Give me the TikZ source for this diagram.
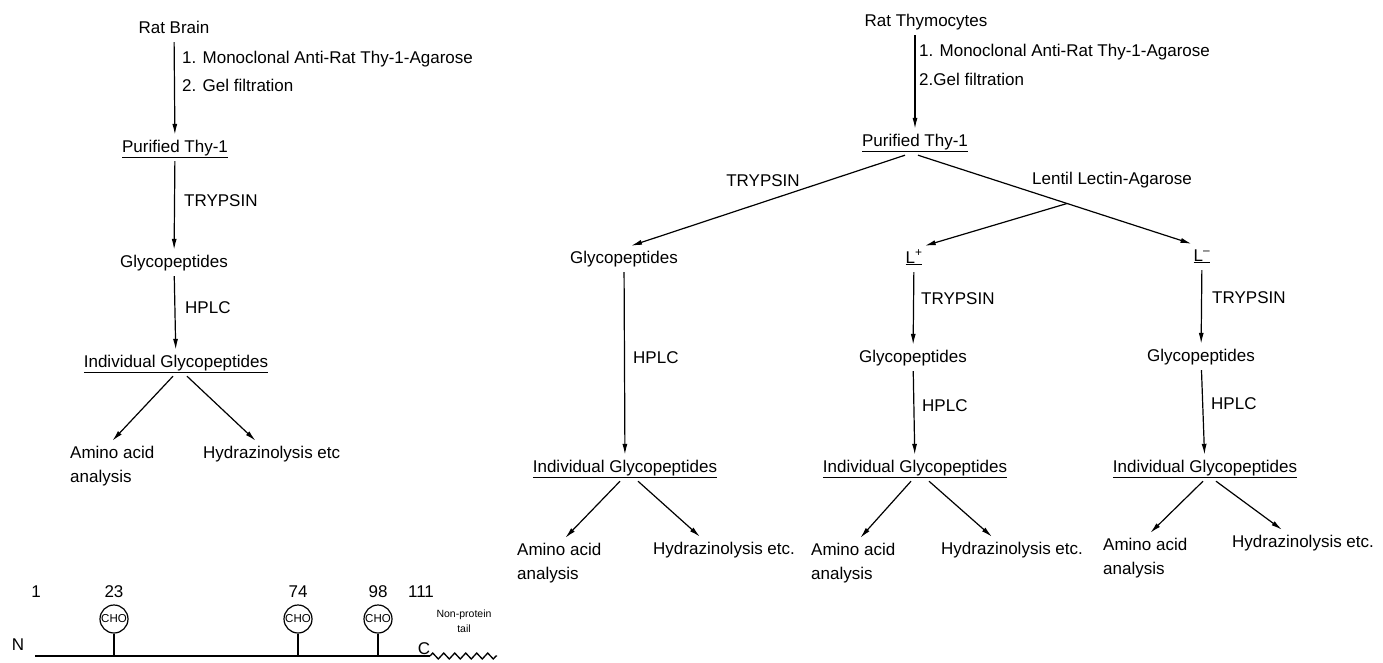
\documentclass[tikz,border=0pt]{standalone}
\usepackage{fontspec}
\setmainfont{Liberation Sans}
\usetikzlibrary{arrows.meta,decorations.pathmorphing}

\begin{document}
\begin{tikzpicture}
[x=1pt,y=-1pt,
  arrowDecorate/.style={-{Latex[length=11pt,width=5pt]},line width=1.2pt},%
  lineDecorate/.style={-,line width=1.3pt},
  nodeDecorate/.style={anchor=base,inner xsep=2pt,inner ysep=5pt,text height=12pt,text depth=4pt,font=\fontsize{17}{24}\selectfont},
  stepDecorate/.style={nodeDecorate,anchor=base west},
  twoDecorate/.style={anchor=west,inner xsep=2pt,inner ysep=5pt,align=left,font=\fontsize{17}{24}\selectfont},
  choDecorate/.style={shape=circle,draw,line width=1.2pt,inner sep=0pt,minimum size=28pt,font=\fontsize{11.5}{12}\selectfont}]
\useasboundingbox (0,0) rectangle (1383,662);
%% plain nodes
\foreach \nodename/\x/\y/\txt in {
  rb0/174/33/Rat Brain,
  gp0/174/267/Glycopeptides,
  rt1/926/26/Rat Thymocytes,
  gp1/624/263/Glycopeptides,
  gp2/913/362/Glycopeptides,
  gp3/1201/361/Glycopeptides}
{
  \node (\nodename) at (\x,\y) [nodeDecorate] {\txt};
}
%% underlined nodes
\foreach \nodename/\x/\y/\txt in {
  pt0/175/152/Purified Thy-1,
  ig0/176/367/Individual Glycopeptides,
  pt1/915/146/Purified Thy-1,
  lp/914/263/L\textsuperscript{+},
  lm/1202/261/L\textsuperscript{--},
  ig1/625/472/Individual Glycopeptides,
  ig2/915/472/Individual Glycopeptides,
  ig3/1205/472/Individual Glycopeptides}
{
  \node (\nodename) at (\x,\y) [nodeDecorate] {\underline{\txt}};
}
%% step labels
\foreach \nodename/\x/\y/\txt in {
  mab0/180/63/1. Monoclonal Anti-Rat Thy-1-Agarose,
  gel0/180/91/2. Gel filtration,
  tryp0/182/206/TRYPSIN,
  hplc0/183/313/HPLC,
  mab1/917/56/1. Monoclonal Anti-Rat Thy-1-Agarose,
  gel1/917/85/2.Gel filtration,
  tryp2/919/304/TRYPSIN,
  tryp3/1210/303/TRYPSIN,
  hplc1/631/363/HPLC,
  hplc2/920/411/HPLC,
  hplc3/1209/409/HPLC,
  hz0/201/458/Hydrazinolysis etc,
  hz1/651/554/Hydrazinolysis etc.,
  hz2/939/554/Hydrazinolysis etc.,
  hz3/1230/547/Hydrazinolysis etc.}
{
  \node (\nodename) at (\x,\y) [stepDecorate] {\txt};
}
\node (tryp1) at (763,186) [nodeDecorate] {TRYPSIN};
\node (lectin) at (1112,184) [nodeDecorate] {Lentil Lectin-Agarose};
\foreach \nodename/\x/\y in {aa0/68/466, aa1/515/563, aa2/809/563, aa3/1101/558}
{
  \node (\nodename) at (\x,\y) [twoDecorate] {Amino acid\\analysis};
}
%% arrows
\path
\foreach \startnode/\endnode in {
  rb0/pt0, pt0/gp0, gp0/ig0, lp/gp2, lm/gp3, gp1/ig1, gp2/ig2, gp3/ig3}
{
  (\startnode) edge[arrowDecorate] (\endnode)
};
\draw[arrowDecorate] (pt1.north |- rt1.south) -- (pt1.north);
\draw[arrowDecorate] ([xshift=-10pt]pt1.south) -- ([xshift=7pt]gp1.north);
\draw[arrowDecorate] ([xshift=3pt]pt1.south) -- coordinate[pos=0.545] (split) (lm.north west);
\draw[arrowDecorate] (split) -- (lp.north east);
\foreach \col/\a/\b/\c/\d in {0/-3/0/11/-16, 1/-5/6/13/-24, 2/-4/7/14/-20, 3/-2/5/11/-21}
{
  \draw[arrowDecorate] ([xshift=\a pt]ig\col.south) -- ([xshift=\b pt]aa\col.north);
  \draw[arrowDecorate] ([xshift=\c pt]ig\col.south) -- ([xshift=\d pt]hz\col.north);
}
%% protein
\coordinate (nend) at (35,656);
\coordinate (cend) at (430,656);
\coordinate (tailend) at (497,656);
\node (nterm) at (18,650) [nodeDecorate] {N};
\node (cterm) at (424,654) [nodeDecorate] {C};
\foreach \res/\x in {1/36, 23/114, 74/298, 98/378, 111/421}
{
  \node (num\res) at (\x,597) [nodeDecorate] {\res};
}
\foreach \res/\x in {23/114, 74/298, 98/378}
{
  \node (cho\res) at (\x,619) [choDecorate] {CHO};
  \draw[lineDecorate] (cho\res.south) -- (cho\res.south |- nend);
}
\draw[lineDecorate] (nend) -- (cend);
\draw[lineDecorate,decorate,decoration={zigzag,segment length=11pt,amplitude=3pt}] (cend) -- (tailend);
\node (tail) at (464,621) [align=center,font=\fontsize{10.5}{15}\selectfont] {Non-protein\\tail};
\end{tikzpicture}
\end{document}
